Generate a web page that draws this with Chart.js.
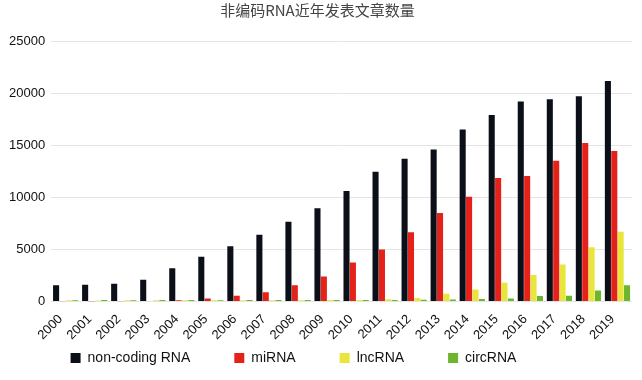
<!DOCTYPE html>
<html>
<head>
<meta charset="utf-8">
<script src="https://cdn.jsdelivr.net/npm/chart.js@4/dist/chart.umd.min.js"></script>
<style>
  body { margin: 0; background: #fff; }
  #wrap { width: 642px; height: 380px; }
</style>
</head>
<body>
<div id="wrap"><canvas id="chart"></canvas></div>
<script>
const years = ['2000','2001','2002','2003','2004','2005','2006','2007','2008','2009',
               '2010','2011','2012','2013','2014','2015','2016','2017','2018','2019'];
const nonCoding = [1550, 1600, 1700, 2100, 3200, 4300, 5300, 6400, 7650, 8950,
                   10600, 12450, 13700, 14600, 16500, 17900, 19200, 19400, 19700, 21150];
const miRNA = [20, 10, 20, 60, 130, 300, 560, 900, 1550, 2400,
               3750, 4980, 6650, 8500, 10050, 11850, 12050, 13500, 15200, 14450];
const lncRNA = [110, 100, 110, 120, 120, 110, 120, 130, 130, 140,
                150, 220, 330, 750, 1150, 1800, 2550, 3550, 5200, 6700];
const circRNA = [130, 140, 130, 140, 150, 120, 150, 140, 150, 150,
                 150, 150, 160, 200, 230, 300, 540, 560, 1050, 1550];
const yTicks = [0, 5000, 10000, 15000, 20000, 25000];

const latin = '"Liberation Sans", Arial, sans-serif';

// legend has wide item spacing, so its box is kept short in the layout
// and it is placed by hand afterwards
const legendPlace = {
    id: 'legendPlace',
    afterLayout(chart) {
        const lg = chart.legend;
        lg.left -= 24;
        lg.right -= 24;
        lg.top = 351 - lg.options.labels.padding;
    }
};

new Chart(document.getElementById('chart'), {
    type: 'bar',
    data: {
        labels: years,
        datasets: [
            { label: 'non-coding RNA', data: nonCoding, backgroundColor: '#0b0f17' },
            { label: 'miRNA', data: miRNA, backgroundColor: '#e52219' },
            { label: 'lncRNA', data: lncRNA, backgroundColor: '#e8e63c' },
            { label: 'circRNA', data: circRNA, backgroundColor: '#6cb52d' }
        ]
    },
    options: {
        responsive: true,
        maintainAspectRatio: false,
        animation: false,
        layout: { padding: { left: 3, right: 10, top: 0, bottom: 0 } },
        datasets: {
            bar: { categoryPercentage: 0.88, barPercentage: 0.95 }
        },
        plugins: {
            title: {
                display: true,
                text: '非编码RNA近年发表文章数量',
                color: '#444',
                font: { family: '"Noto Sans CJK SC", ' + latin, size: 15, weight: 'normal' },
                padding: { top: 1, bottom: 22 }
            },
            legend: {
                position: 'bottom',
                maxHeight: 35,
                labels: {
                    boxWidth: 10,
                    boxHeight: 10,
                    padding: 44,
                    color: '#111',
                    font: { family: latin, size: 14 }
                }
            },
            tooltip: { enabled: false }
        },
        scales: {
            x: {
                grid: { display: false },
                border: { display: false },
                ticks: {
                    autoSkip: false,
                    minRotation: 45,
                    maxRotation: 45,
                    padding: 2,
                    labelOffset: -5,
                    color: '#111',
                    font: { family: latin, size: 13 }
                }
            },
            y: {
                min: 0,
                max: 25000,
                border: { display: false },
                grid: { color: '#e4e4e4', drawTicks: false },
                afterBuildTicks: (scale) => { scale.ticks = yTicks.map(v => ({ value: v })); },
                ticks: {
                    padding: 6,
                    color: '#111',
                    font: { family: latin, size: 13 },
                    callback: (v) => String(v)
                }
            }
        }
    },
    plugins: [legendPlace]
});
</script>
</body>
</html>
